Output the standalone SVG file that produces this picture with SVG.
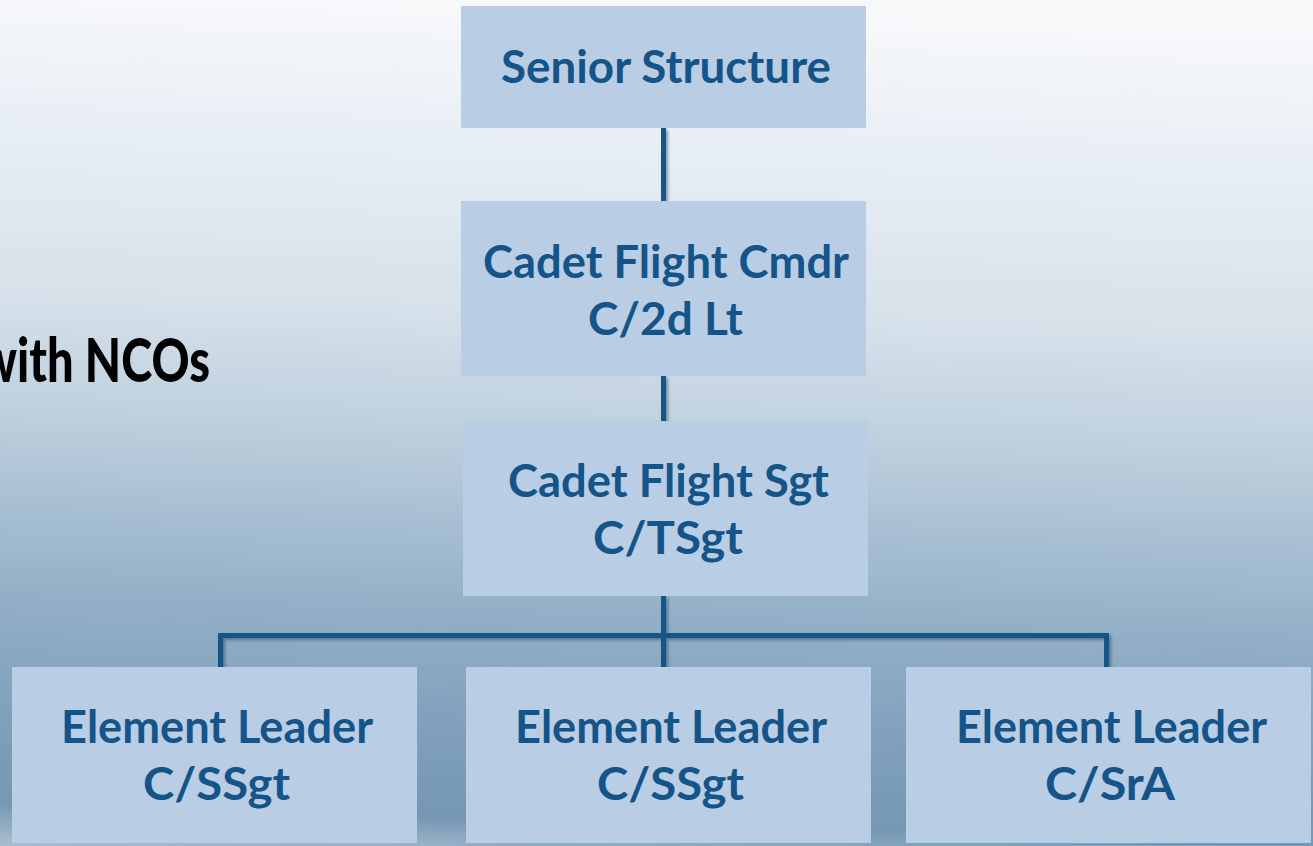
<svg xmlns="http://www.w3.org/2000/svg" width="1313" height="846" viewBox="0 0 1313 846">
  <defs>
    <linearGradient id="bg" x1="0.05" y1="0" x2="0" y2="1">
      <stop offset="0" stop-color="#f6f8fa"/>
      <stop offset="0.15" stop-color="#e8eef5"/>
      <stop offset="0.35" stop-color="#d6e1ea"/>
      <stop offset="0.5" stop-color="#bccedd"/>
      <stop offset="0.7" stop-color="#93b0c7"/>
      <stop offset="0.85" stop-color="#7f9fbb"/>
      <stop offset="0.95" stop-color="#7698b4"/>
      <stop offset="1" stop-color="#a9bfd0"/>
    </linearGradient>
    <filter id="sh" x="-20%" y="-20%" width="140%" height="140%">
      <feDropShadow dx="2" dy="2" stdDeviation="1.5" flood-color="#1c2f44" flood-opacity="0.45"/>
    </filter>
    <style>
      .box { fill: #b9cde4; }
      .lbl { font-family: Lato, "Open Sans", "Liberation Sans", sans-serif; font-weight: bold; font-size: 46px; fill: #155489; text-anchor: middle; }
      .con { stroke: #155489; stroke-width: 5; fill: none; stroke-linecap: butt; }
      .title { font-family: Lato, "Liberation Sans", sans-serif; font-weight: 900; font-size: 60px; fill: #000000; }
    </style>
  </defs>

  <rect x="0" y="0" width="1313" height="846" fill="url(#bg)"/>

  <text class="title" x="-21" y="382" textLength="231" lengthAdjust="spacingAndGlyphs">with NCOs</text>

  <g id="connectors" filter="url(#sh)">
    <line class="con" x1="663.5" y1="128" x2="663.5" y2="201"/>
    <line class="con" x1="663.5" y1="376" x2="663.5" y2="421"/>
    <line class="con" x1="663.5" y1="596" x2="663.5" y2="667"/>
    <polyline class="con" points="220.5,667 220.5,635.5 1106.5,635.5 1106.5,667"/>
  </g>

  <g id="senior-structure">
    <rect class="box" x="461" y="6" width="405" height="122"/>
    <text class="lbl" x="666" y="83" textLength="330" lengthAdjust="spacingAndGlyphs">Senior Structure</text>
  </g>

  <g id="cadet-flight-cmdr">
    <rect class="box" x="461" y="201" width="405" height="175"/>
    <text class="lbl" x="666" y="278" textLength="366" lengthAdjust="spacingAndGlyphs">Cadet Flight Cmdr</text>
    <text class="lbl" x="665.5" y="335" textLength="155" lengthAdjust="spacingAndGlyphs">C/2d Lt</text>
  </g>

  <g id="cadet-flight-sgt">
    <rect class="box" x="463" y="421" width="405" height="175"/>
    <text class="lbl" x="668.5" y="497" textLength="321" lengthAdjust="spacingAndGlyphs">Cadet Flight Sgt</text>
    <text class="lbl" x="668" y="554" textLength="150" lengthAdjust="spacingAndGlyphs">C/TSgt</text>
  </g>

  <g id="element-leader-1">
    <rect class="box" x="12" y="667" width="405" height="176"/>
    <text class="lbl" x="217" y="743" textLength="312" lengthAdjust="spacingAndGlyphs">Element Leader</text>
    <text class="lbl" x="216.5" y="800" textLength="147" lengthAdjust="spacingAndGlyphs">C/SSgt</text>
  </g>

  <g id="element-leader-2">
    <rect class="box" x="466" y="667" width="405" height="176"/>
    <text class="lbl" x="671" y="743" textLength="312" lengthAdjust="spacingAndGlyphs">Element Leader</text>
    <text class="lbl" x="670.5" y="800" textLength="147" lengthAdjust="spacingAndGlyphs">C/SSgt</text>
  </g>

  <g id="element-leader-3">
    <rect class="box" x="906" y="667" width="405" height="176"/>
    <text class="lbl" x="1111.5" y="743" textLength="311" lengthAdjust="spacingAndGlyphs">Element Leader</text>
    <text class="lbl" x="1110" y="800" textLength="130" lengthAdjust="spacingAndGlyphs">C/SrA</text>
  </g>
</svg>
